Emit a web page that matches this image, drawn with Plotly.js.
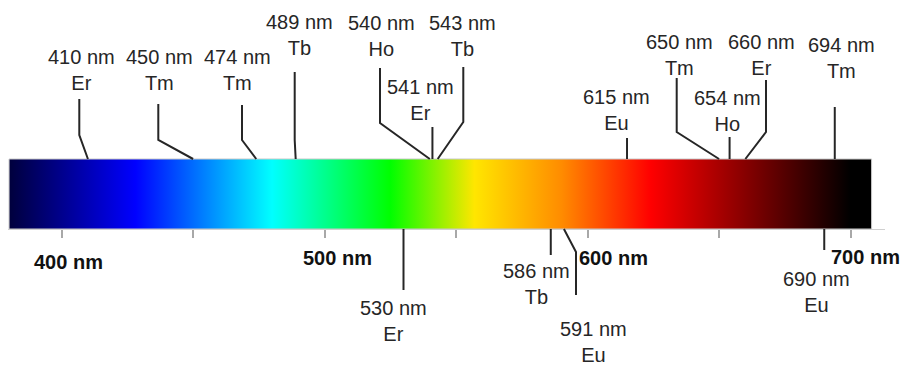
<!DOCTYPE html>
<html><head><meta charset="utf-8">
<script src="https://cdn.plot.ly/plotly-3.0.1.min.js"></script>
<style>html,body{margin:0;padding:0;background:#fff}#chart{width:903px;height:369px}</style>
</head><body><div id="chart"></div>
<script>
// ---- data ----
const wavelengths = [410, 450, 474, 489, 530, 540, 541, 543, 586, 591, 615, 650, 654, 660, 690, 694];
const ions = ['Er', 'Tm', 'Tm', 'Tb', 'Er', 'Ho', 'Er', 'Tb', 'Tb', 'Eu', 'Eu', 'Tm', 'Ho', 'Er', 'Eu', 'Tm'];
const tickValues = [400, 450, 500, 550, 600, 650, 700];
const tickLabels = ['400 nm', '', '500 nm', '', '600 nm', '', '700 nm'];
const spectrumRange = [380, 708];
const stopNm = [380, 428, 480, 525, 557, 590, 624, 700, 708];
const stopColors = ['#00003c', '#0000ff', '#00ffff', '#00ff00', '#ffe600', '#ff8c00', '#ff0000', '#000000', '#000000'];

// ---- layout helpers (pixels) ----
const W = 903, H = 369, ML = 8, MR = 18;
const xRange = [379.6, 713.1];
const pxPerNm = (W - ML - MR) / (xRange[1] - xRange[0]);
const toNm = px => xRange[0] + (px - ML) / pxPerNm;
const barTop = 159, barBottom = 229;
const textColor = '#262626';
// per label: side, text centre x, first-line y, stem x (null = straight), kink y, stem end y
const labelSide  = ['t','t','t','t','b','t','t','t','b','b','t','t','t','t','b','t'];
const labelX     = [81.5,159.5,237.5,299.5,393.5,381.5,420,462.5,536.7,593.5,616,679,727.5,761.5,816.5,841.5];
const labelY     = [57,57,57,22,308,23,87,23,271,329,97,42,98,42,279,45];
const stemX      = [79.3,158.3,242,294.7,null,380,null,463.3,null,576,null,676.7,null,766,null,null];
const kinkY      = [135,140,140,140,null,123,null,122,null,252,null,132,null,132,null,null];
const stemEndY   = [99,104,105,72,290,68,127,67,255,295,138,78,137,80,250,107];
const tickShift  = [6.7, 0, 12.9, 0, 25.7, 0, 15.4];
const tickY      = [262, 0, 257.5, 0, 257.5, 0, 257];

const span = spectrumRange[1] - spectrumRange[0];
const colorscale = stopNm.map((v, i) => [(v - spectrumRange[0]) / span, stopColors[i]]);

const bar = {
  type: 'scatter', mode: 'lines',
  x: [spectrumRange[0], spectrumRange[1], spectrumRange[1], spectrumRange[0], spectrumRange[0]],
  y: [barTop, barTop, barBottom, barBottom, barTop],
  fill: 'toself',
  fillgradient: { type: 'horizontal', colorscale: colorscale },
  line: { color: '#c8c8c8', width: 1 },
  hoverinfo: 'skip', showlegend: false
};

const shapes = [];
const annotations = [];
wavelengths.forEach((w, i) => {
  const edge = labelSide[i] === 't' ? barTop : barBottom;
  let path = `M ${w},${edge}`;
  if (stemX[i] !== null) {
    const sx = toNm(stemX[i]);
    path += ` L ${sx},${kinkY[i]} L ${sx},${stemEndY[i]}`;
  } else {
    path += ` L ${w},${stemEndY[i]}`;
  }
  shapes.push({ type: 'path', xref: 'x', yref: 'y', path: path,
    line: { color: textColor, width: 2 } });
  annotations.push({
    xref: 'x', yref: 'y', x: toNm(labelX[i]), y: labelY[i] + 13,
    xanchor: 'center', yanchor: 'middle', showarrow: false,
    text: `${w} nm<br>${ions[i]}`,
    font: { family: 'Liberation Sans, Arial, sans-serif', size: 20, color: textColor }
  });
});
tickValues.forEach((v, i) => {
  if (!tickLabels[i]) return;
  annotations.push({
    xref: 'x', yref: 'y', x: v, y: tickY[i], xshift: tickShift[i],
    xanchor: 'center', yanchor: 'middle', showarrow: false,
    text: `<b>${tickLabels[i]}</b>`,
    font: { family: 'Liberation Sans, Arial, sans-serif', size: 20, color: '#111' }
  });
});

const layout = {
  width: W, height: H,
  margin: { l: ML, r: MR, t: 0, b: 0, pad: 0 },
  paper_bgcolor: '#fff', plot_bgcolor: '#fff',
  showlegend: false,
  xaxis: {
    range: xRange, anchor: 'free', position: 1 - barBottom / H,
    showgrid: false, zeroline: false,
    showline: true, linecolor: '#d0d0d0', linewidth: 1,
    ticks: 'outside', ticklen: 8, tickwidth: 2, tickcolor: '#a8a8a8',
    tickvals: tickValues, ticktext: tickLabels, showticklabels: false
  },
  yaxis: { range: [H, 0], visible: false, showgrid: false, zeroline: false },
  shapes: shapes,
  annotations: annotations
};

Plotly.newPlot('chart', [bar], layout, { displayModeBar: false, staticPlot: true });
</script>
</body></html>
